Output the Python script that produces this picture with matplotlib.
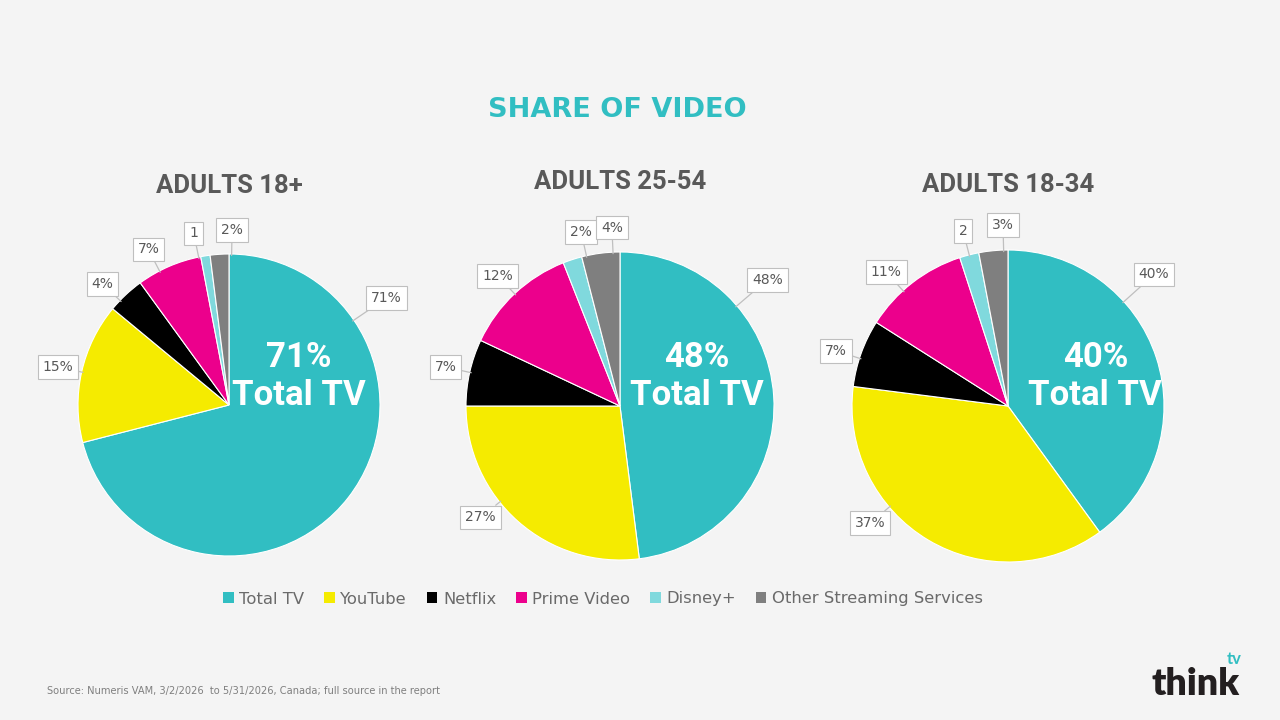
import numpy as np
import matplotlib.pyplot as plt
from matplotlib.patches import Patch

# data
services = ["Total TV", "YouTube", "Netflix", "Prime Video", "Disney+", "Other Streaming Services"]
groups = ["ADULTS 18+", "ADULTS 25-54", "ADULTS 18-34"]
share_18plus = [71, 15, 4, 7, 1, 2]
share_25_54 = [48, 27, 7, 12, 2, 4]
share_18_34 = [40, 37, 7, 11, 2, 3]
label_texts_18plus = ["71%", "15%", "4%", "7%", "1", "2%"]
label_texts_25_54 = ["48%", "27%", "7%", "12%", "2%", "4%"]
label_texts_18_34 = ["40%", "37%", "7%", "11%", "2", "3%"]

colors = ["#31BEC2", "#F5EB00", "#000000", "#EC008C", "#80D9DD", "#7F7F7F"]
BG = "#F4F4F4"
GREY_TXT = "#595959"

# layout (pixels in a 1280x720 canvas); label_shift in degrees off the slice middle
W, H = 1280, 720
pie_layout = [
    dict(cx=229, cy=405, r=151, title_y=186, big_x=0.46,
         label_shift={0: 72, 2: 3, 3: 4, 4: 2.6, 5: -4.6}),
    dict(cx=620, cy=406, r=154, title_y=182, big_x=0.50,
         label_shift={0: 37, 1: -10, 4: -5.4, 5: -4.6}),
    dict(cx=1008, cy=406, r=156, title_y=185, big_x=0.56,
         label_shift={0: 24, 1: -19, 2: 2, 3: 4.5, 5: -3.8}),
]

plt.rcParams["font.family"] = ["DejaVu Sans"]
fig = plt.figure(figsize=(12.8, 7.2), dpi=100, facecolor=BG)

fig.text(617 / W, 1 - 110 / H, "SHARE OF VIDEO", ha="center", va="center",
         fontsize=19.5, fontweight="bold", color="#31BEC2")

all_values = [share_18plus, share_25_54, share_18_34]
all_labels = [label_texts_18plus, label_texts_25_54, label_texts_18_34]

for values, texts, name, lay in zip(all_values, all_labels, groups, pie_layout):
    cx, cy, r = lay["cx"], lay["cy"], lay["r"]
    ax = fig.add_axes([(cx - r) / W, 1 - (cy + r) / H, 2 * r / W, 2 * r / H])
    wedges, _ = ax.pie(values, colors=colors, startangle=90, counterclock=False,
                       radius=1, wedgeprops=dict(edgecolor="white", linewidth=0.8))
    ax.set_xlim(-1, 1)
    ax.set_ylim(-1, 1)
    ax.set_aspect("equal")
    ax.axis("off")

    for i, (w, t) in enumerate(zip(wedges, texts)):
        mid = (w.theta1 + w.theta2) / 2 + lay["label_shift"].get(i, 0)
        a = np.deg2rad(mid)
        dist = 1.26 if i == 0 else 1.16
        ax.annotate(t, xy=(np.cos(a) * 0.99, np.sin(a) * 0.99),
                    xytext=(np.cos(a) * dist, np.sin(a) * dist),
                    ha="center", va="center", fontsize=10, color=GREY_TXT,
                    annotation_clip=False,
                    bbox=dict(boxstyle="square,pad=0.35", fc="white", ec="#BFBFBF", lw=0.8),
                    arrowprops=dict(arrowstyle="-", color="#BFBFBF", lw=0.9,
                                    shrinkA=0, shrinkB=0))

    ax.text(lay["big_x"], 0.19, f"{values[0]}%\nTotal TV", ha="center", va="center",
            fontsize=25, fontweight="bold", color="white", linespacing=1.2,
            family=["Roboto", "DejaVu Sans"])

    fig.text(cx / W, 1 - lay["title_y"] / H, name, ha="center", va="center",
             fontsize=18.5, fontweight="bold", color=GREY_TXT,
             family=["Roboto", "DejaVu Sans"])

handles = [Patch(facecolor=c, edgecolor="none") for c in colors]
fig.legend(handles, services, loc="center", bbox_to_anchor=(603 / W, 1 - 599 / H),
           ncol=6, frameon=False, fontsize=11.8, labelcolor="#6A6A6A",
           handlelength=0.65, handleheight=0.65, handletextpad=0.35, columnspacing=1.2)

fig.text(47 / W, 1 - 691 / H,
         "Source: Numeris VAM, 3/2/2026  to 5/31/2026, Canada; full source in the report",
         ha="left", va="center", fontsize=7.1, color="#7F7F7F")

# logo
fig.text(1151 / W, 1 - 684 / H, "think", ha="left", va="center",
         fontsize=27, fontweight="heavy", color="#231F20",
         family=["Lato", "DejaVu Sans"])
fig.text(1227 / W, 1 - 659 / H, "tv", ha="left", va="center",
         fontsize=12, fontweight="bold", color="#31BEC2",
         family=["Lato", "DejaVu Sans"])

fig.savefig("out.png", dpi=100, facecolor=BG)
